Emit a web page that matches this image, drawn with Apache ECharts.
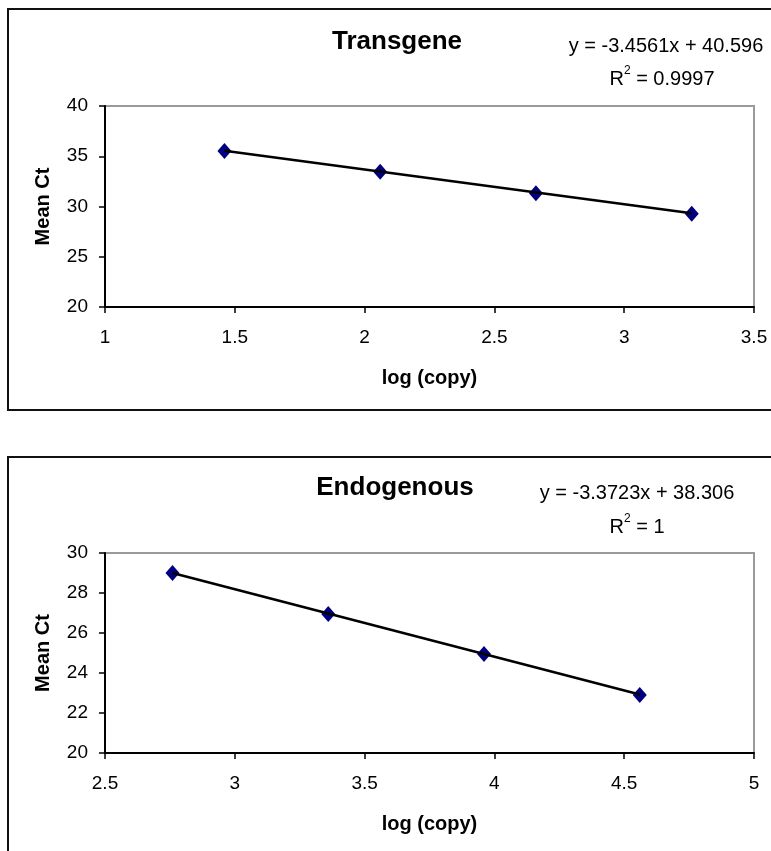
<!DOCTYPE html>
<html>
<head>
<meta charset="utf-8">
<script src="https://cdn.jsdelivr.net/npm/echarts@6/dist/echarts.min.js"></script>
<style>
html,body{margin:0;padding:0;background:#fff;}
#chart{width:771px;height:851px;}
</style>
</head>
<body>
<div id="chart"></div>
<script>
// ---- data ----
const chartTitles = ['Transgene', 'Endogenous'];
const xAxisName = 'log (copy)';
const yAxisName = 'Mean Ct';

const transX = [1.46, 2.06, 2.66, 3.26];
const transY = [35.52, 33.47, 31.31, 29.28];
const transFit = [-3.4561, 40.596];      // slope, intercept
const transR2 = '0.9997';

const endoX = [2.76, 3.36, 3.96, 4.56];
const endoY = [29.0, 26.95, 24.95, 22.9];
const endoFit = [-3.3723, 38.306];
const endoR2 = '1';

const transXTicks = [1, 3.5, 0.5];   // min, max, interval
const transYTicks = [20, 40, 5];
const endoXTicks = [2.5, 5, 0.5];
const endoYTicks = [20, 30, 2];

// ---- build ----
const FONT = '"Liberation Sans", Arial, sans-serif';
const chart = echarts.init(document.getElementById('chart'));

function pts(xs, ys) { return xs.map((x, i) => [x, ys[i]]); }
function trend(xs, fit) {
  const a = xs[0], b = xs[xs.length - 1];
  return [[a, fit[0] * a + fit[1]], [b, fit[0] * b + fit[1]]];
}
function eqText(fit) {
  const s = fit[0] < 0 ? '-' + Math.abs(fit[0]) : String(fit[0]);
  return 'y = ' + s + 'x + ' + fit[1];
}

function xAxis(idx, t) {
  return {
    type: 'value', gridIndex: idx, min: t[0], max: t[1], interval: t[2],
    name: xAxisName, nameLocation: 'middle', nameGap: 61,
    nameTextStyle: { fontFamily: FONT, fontSize: 20, fontWeight: 'bold', color: '#000' },
    axisLine: { show: true, onZero: false, lineStyle: { color: '#000', width: 2 } },
    axisTick: { show: true, inside: false, length: 6, lineStyle: { color: '#000', width: 1.5 } },
    axisLabel: { fontFamily: FONT, fontSize: 19, color: '#000', margin: 21 },
    splitLine: { show: false }
  };
}
function yAxis(idx, t) {
  return {
    type: 'value', gridIndex: idx, min: t[0], max: t[1], interval: t[2],
    name: yAxisName, nameLocation: 'middle', nameGap: 52, nameRotate: 90,
    nameTextStyle: { fontFamily: FONT, fontSize: 20, fontWeight: 'bold', color: '#000' },
    axisLine: { show: true, onZero: false, lineStyle: { color: '#000', width: 2 } },
    axisTick: { show: true, inside: false, length: 6, lineStyle: { color: '#000', width: 1.5 } },
    axisLabel: { fontFamily: FONT, fontSize: 19, color: '#000', margin: 17 },
    splitLine: { show: false }
  };
}

function textEl(x, y, text, size, bold) {
  return {
    type: 'text', x: x, y: y, z: 10,
    style: {
      text: text, fontFamily: FONT, fontSize: size, fontWeight: bold ? 'bold' : 'normal',
      fill: '#000', align: 'center', verticalAlign: 'middle'
    }
  };
}
function r2El(x, y, val) {
  return {
    type: 'text', x: x, y: y, z: 10,
    style: {
      text: '{a|R}{s|2}{a| = ' + val + '}',
      fontFamily: FONT, fill: '#000', align: 'center', verticalAlign: 'middle',
      rich: {
        a: { fontFamily: FONT, fontSize: 20, color: '#000', lineHeight: 24, verticalAlign: 'bottom' },
        s: { fontFamily: FONT, fontSize: 12, color: '#000', lineHeight: 24, verticalAlign: 'top' }
      }
    }
  };
}

const markerStyle = { color: '#000080', opacity: 1 };

const option = {
  backgroundColor: '#fff',
  animation: false,
  grid: [
    { left: 105, top: 106, width: 649, height: 201, show: true, borderColor: '#9a9a9a', borderWidth: 2, backgroundColor: '#fff' },
    { left: 105, top: 553, width: 649, height: 200, show: true, borderColor: '#9a9a9a', borderWidth: 2, backgroundColor: '#fff' }
  ],
  xAxis: [xAxis(0, transXTicks), xAxis(1, endoXTicks)],
  yAxis: [yAxis(0, transYTicks), yAxis(1, endoYTicks)],
  series: [
    { type: 'scatter', xAxisIndex: 0, yAxisIndex: 0, data: pts(transX, transY),
      symbol: 'diamond', symbolSize: [14, 16], itemStyle: markerStyle, z: 2 },
    { type: 'line', xAxisIndex: 0, yAxisIndex: 0, data: trend(transX, transFit),
      showSymbol: false, symbol: 'none', lineStyle: { color: '#000', width: 2.5 }, z: 3 },
    { type: 'scatter', xAxisIndex: 1, yAxisIndex: 1, data: pts(endoX, endoY),
      symbol: 'diamond', symbolSize: [14, 16], itemStyle: markerStyle, z: 2 },
    { type: 'line', xAxisIndex: 1, yAxisIndex: 1, data: trend(endoX, endoFit),
      showSymbol: false, symbol: 'none', lineStyle: { color: '#000', width: 2.5 }, z: 3 }
  ],
  graphic: [
    { type: 'rect', shape: { x: 8, y: 9, width: 900, height: 401 },
      style: { fill: 'none', stroke: '#111', lineWidth: 2 }, z: 0 },
    { type: 'rect', shape: { x: 8, y: 457, width: 900, height: 500 },
      style: { fill: 'none', stroke: '#111', lineWidth: 2 }, z: 0 },
    textEl(397, 42, chartTitles[0], 26, true),
    textEl(666, 46, eqText(transFit), 20, false),
    r2El(662, 77, transR2),
    textEl(395, 488, chartTitles[1], 26, true),
    textEl(637, 493, eqText(endoFit), 20, false),
    r2El(637, 525, endoR2)
  ]
};
chart.setOption(option);
</script>
</body>
</html>
